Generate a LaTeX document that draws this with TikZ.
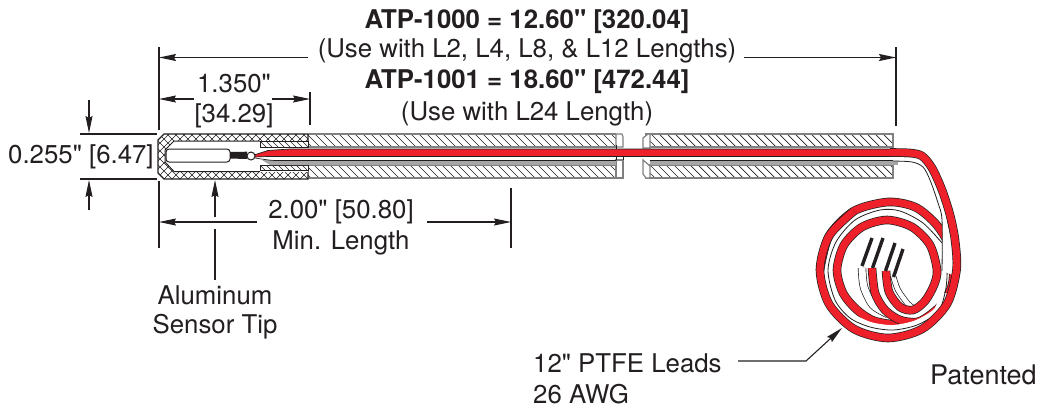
\documentclass[tikz,border=0pt]{standalone}
\usepackage{fontspec}
\newfontfamily\hv{TeX Gyre Heros}
\usetikzlibrary{arrows.meta}
\definecolor{leadred}{HTML}{EE2029}
\definecolor{ink}{HTML}{231F20}
\newcommand{\redAone}{plot[smooth,tension=0.5] coordinates {(890,152.5)(910,153)(922,156)(932,168)(942,190)(950,215)(955,240)(956.5,270)(947,304)(922,329)(888,338)(854,329)(829,304)(820,270)(829,236)(854,211)}}
\newcommand{\redAtwo}{plot[smooth,tension=0.5] coordinates {(820,270)(829,236)(854,211)(888,202)(915,207)(935,223)(948,243)(953,265)(952,285)(943,303)(930,315)(917,322)(900,320)(885,310)(875,293)(872,268)}}
\newcommand{\redB}{plot[smooth,tension=0.5] coordinates {(907,324)(890,324)(872,320)(856,309)(843,293)(837,270)(844,245)(862,227)(887,220)(912,227)(930,245)(937,270)(934,285)(925,301)(913,310)(900,307)(889,292)(886,271)}}
\newcommand{\midline}{plot[smooth,tension=0.5] coordinates {(942,243)(923,223)(900,211)(880,210)(855,220)(836,242)(828,270)(835,300)(850,318)(870,327)(893,330)(917,325)(938,312)(945,293)(947,277)(947,260)}}
\newcommand{\midhalo}{plot[smooth,tension=0.5] coordinates {(850,318)(870,327)(893,330)(917,325)(938,312)(945,293)}}
\newcommand{\whiteA}{plot[smooth,tension=0.5] coordinates {(862,268)(864,287)(873,305)(888,314)}}
\newcommand{\whiteB}{plot[smooth,tension=0.5] coordinates {(893.5,277)(898,290)(908,304)(915,309)}}
\newcommand{\leadouter}{plot[smooth,tension=0.5] coordinates {(893,156.5)(915,157)(927,160)(935,175)(943,197)(948,223)(953,247)(953,275)}}
\newcommand{\leadinner}{plot[smooth,tension=0.5] coordinates {(942,271)(942,220)(938,203)(930,180)(923,167)(912,162)(893,161)}}
\tikzset{
  dim/.style={draw=ink,line width=1.1pt},
  dimarrow/.style={dim,-{Stealth[length=17pt,width=7pt,inset=2pt,color=ink]}},
  label/.style={text=ink,inner sep=0pt,anchor=base,font=\hv\fontsize{25.8}{25.8}\selectfont},
  boldlabel/.style={label,font=\hv\bfseries\fontsize{25.8}{25.8}\selectfont},
  hatchline/.style={draw=ink,line width=0.7pt},
  fineline/.style={draw=ink,line width=0.55pt},
  wirefill/.style={line cap=butt,line join=round},
  wireline/.style={ink,line width=0.8pt},
}
\newcommand{\dohatch}[4]{%
  \begin{scope}
    \clip (#1,#2) rectangle (#3,#4);
    \foreach \xx in {130,138,...,920} {\draw[hatchline] (\xx,125) -- (\xx+60,185);}
  \end{scope}
}
\newcommand{\redwire}[1]{%
  \draw[ink,line width=8.6pt,wirefill] #1;
  \draw[leadred,line width=7.2pt,wirefill] #1;
}
\newcommand{\whitewire}[2]{%
  \draw[ink,line width=#2pt+1.4pt,wirefill] #1;
  \draw[white,line width=#2pt,wirefill] #1;
}
\begin{document}
\begin{tikzpicture}[x=1pt,y=-1pt]
\useasboundingbox[fill=white] (0,0) rectangle (1040,408);
% ---- tubes
\dohatch{308}{134}{616}{147}
\dohatch{308}{165}{623}{178}
\dohatch{650}{134}{893}{147}
\dohatch{650}{165}{893}{178}
\draw[gray,line width=1.6pt] (308,134) -- (616,134) (308,147) -- (616,147) (308,165) -- (623,165) (308,178) -- (623,178);
\draw[gray,line width=1.6pt] (645,134) -- (893,134) -- (893,147) -- (645,147) (645,165) -- (893,165) -- (893,178) -- (645,178);
\draw[draw=gray,line width=1.2pt,fill=white] (616,134) -- (622,134) -- (623,137) -- (623,147) -- (616,147) -- cycle;
\draw[draw=gray,line width=1.2pt,fill=white] (616,160) -- (623,160) -- (623,178) -- (616,178) -- (616,165) -- cycle;
\draw[draw=gray,line width=1.2pt,fill=white] (648,134) -- (643,138) -- (643,148) -- (650,148) -- (650,134) -- cycle;
\draw[draw=gray,line width=1.2pt,fill=white] (643,160) -- (650,166) -- (650,178) -- (646,178) -- (643,174) -- cycle;
\fill[gray!70] (308,160.5) rectangle (616,165);
\fill[gray!70] (650,160.5) rectangle (898,165);
% ---- tip: crosshatched shell
\begin{scope}
  \clip (164,134) -- (308,134) -- (308,179) -- (164,179) -- (158,173) -- (158,140) -- cycle;
  \foreach \xx in {110,118,...,310} {
    \draw[fineline] (\xx,125) -- (\xx+60,185);
    \draw[fineline] (\xx,185) -- (\xx+60,125);
  }
\end{scope}
\draw[draw=ink,line width=1.2pt] (308,134) -- (164,134) -- (158,140) -- (158,173) -- (164,179) -- (308,179) -- (308,171) (308,134) -- (308,141);
\fill[white] (260,141) -- (174,141) -- (165,150) -- (165,162) -- (174,171.5) -- (260,171.5) -- cycle;
\draw[draw=ink,line width=1pt] (260,141) -- (174,141) -- (165,150) -- (165,162) -- (174,171.5) -- (260,171.5);
\fill[white] (260,141) rectangle (308,171.5);
\begin{scope}
  \clip (260,141.5) rectangle (308,147);
  \foreach \xx in {220,226,...,310} {\draw[fineline] (\xx,125) -- (\xx+60,185);}
\end{scope}
\begin{scope}
  \clip (260,165) rectangle (308,170.5);
  \foreach \xx in {190,196,...,310} {\draw[fineline] (\xx,125) -- (\xx+60,185);}
\end{scope}
\draw[draw=ink,line width=0.9pt] (260,141.5) rectangle (308,147);
\draw[draw=ink,line width=0.9pt] (260,165) rectangle (308,170.5);
% sensor and wires
\node[draw=ink,line width=1pt,fill=white,rounded corners=3pt,minimum width=64pt,minimum height=13pt,inner sep=0pt] (sensor) at (198,155.5) {};
\coordinate (bead) at (251,156);
\fill[ink] (230,152) -- (247,151.7) -- (247,159) -- (230,158.5) -- cycle;
% leads in the tube
\fill[gray!70] (262,160) -- (308,160.5) -- (308,165) -- (270,165) -- cycle;
\draw[ink,line width=0.7pt] (255,158) .. controls (262,159) and (266,160) .. (275,160.5) -- (616,160.5);
\draw[ink,line width=0.7pt] (650,160.5) -- (893,160.5);
\fill[leadred,draw=ink,line width=0.7pt] (254,155) -- (268,150.5) -- (290,149) -- (893,149) -- (893,156.5) -- (290,156.5) -- (268,156.5) -- (254,157) -- cycle;
\fill[white,draw=ink,line width=1pt] (bead) circle (4);
\draw[ink,line width=0.8pt] (616,145) -- (616,149) (616,156.5) -- (616,160) (623,156.5) -- (623,160);
% ---- coil: lower layers
\whitewire{\whiteB}{4.5}
\whitewire{\whiteA}{7}
\redwire{\redB}
\redwire{\redAtwo}
\draw[white,line width=10pt,wirefill] \midhalo;
\draw[wireline] \midline;
% ---- coil: lead coming out of the tube, on top
\fill[white] \leadouter -- plot[smooth,tension=0.5] coordinates {(942,271)(942,220)(938,203)(930,180)(923,167)(912,162)(893,161)} -- cycle;
\draw[wireline] \leadouter;
\draw[wireline] \leadinner;
\redwire{\redAone}
% black wire ends
\foreach \a/\b/\c/\d in {862/266/872/238,872.5/268/883/238,885.5/271/895/243,893.5/277/903/249}{
  \draw[ink,line width=3.4pt,line cap=butt] (\a,\b) -- (\c,\d);
}
% ---- top dimension
\node[boldlabel] (atpa) at (527,28) {ATP-1000 = 12.60" [320.04]};
\node[label] (usea) at (527,57.5) {(Use with L2, L4, L8, \& L12 Lengths)};
\node[boldlabel] (atpb) at (527,88.5) {ATP-1001 = 18.60" [472.44]};
\node[label] (useb) at (527,120) {(Use with L24 Length)};
\coordinate (xl1) at (159,47); \coordinate (xl2) at (159,130);
\coordinate (xr1) at (896,47); \coordinate (xr2) at (896,126);
\draw[dim] (xl1) -- (xl2); \draw[dim] (xr1) -- (xr2);
\coordinate (u0) at (308,57.5); \coordinate (u00) at (159,57.5);
\draw[dimarrow] (u0) -- (u00);
\coordinate (u1) at (744,57.5); \coordinate (u2) at (896,57.5);
\draw[dimarrow] (u1) -- (u2);
% ---- 1.350
\node[label] (dima) at (234,92) {1.350"};
\node[label] (dimb) at (234,122) {[34.29]};
\coordinate (xm1) at (310,92); \coordinate (xm2) at (310,125);
\draw[dim] (xm1) -- (xm2);
\coordinate (d1) at (159,99); \coordinate (d2) at (310,99);
\coordinate (d3) at (194,99); \coordinate (d4) at (272,99);
\draw[dimarrow] (d3) -- (d1);
\draw[dimarrow] (d4) -- (d2);
% ---- 0.255
\node[label,anchor=base west] (thick) at (8,163) {0.255" [6.47]};
\coordinate (ta) at (80,134); \coordinate (tb) at (157,134);
\coordinate (tc) at (80,179); \coordinate (td) at (157,179);
\draw[dim] (ta) -- (tb); \draw[dim] (tc) -- (td);
\coordinate (v1) at (89,100); \coordinate (v2) at (89,133);
\coordinate (v3) at (89,210); \coordinate (v4) at (89,180);
\draw[dimarrow] (v1) -- (v2); \draw[dimarrow] (v3) -- (v4);
% ---- 2.00
\node[label] (mina) at (341,218) {2.00" [50.80]};
\node[label] (minb) at (341,249) {Min. Length};
\coordinate (e1) at (159,181); \coordinate (e2) at (159,248);
\coordinate (e3) at (511,188); \coordinate (e4) at (511,248);
\draw[dim] (e1) -- (e2); \draw[dim] (e3) -- (e4);
\coordinate (m1) at (159,222); \coordinate (m2) at (511,222);
\coordinate (m3) at (257,222); \coordinate (m4) at (427,222);
\draw[dimarrow] (m3) -- (m1);
\draw[dimarrow] (m4) -- (m2);
% ---- sensor tip
\node[label] (alu) at (215,304.5) {Aluminum};
\node[label] (stip) at (215,333.5) {Sensor Tip};
\coordinate (tiphead) at (215,180); \coordinate (tipgapa) at (215,217);
\coordinate (tipgapb) at (215,229); \coordinate (tiptail) at (215,280);
\draw[dim] (tiptail) -- (tipgapb);
\draw[dimarrow] (tipgapa) -- (tiphead);
% ---- leads
\node[label,anchor=base west] (pta) at (533,372) {12" PTFE Leads};
\node[label,anchor=base west] (ptb) at (533,403) {26 AWG};
\coordinate (kneea) at (738,361); \coordinate (knee) at (806,361); \coordinate (lhead) at (842,328);
\draw[dimarrow] (kneea) -- (knee) -- (lhead);
\node[label,anchor=base west,font=\hv\fontsize{27}{27}\selectfont] (pat) at (930,384) {Patented};
\end{tikzpicture}
\end{document}
